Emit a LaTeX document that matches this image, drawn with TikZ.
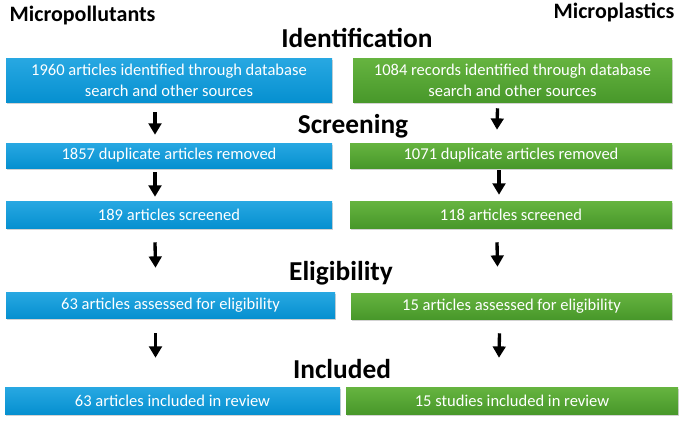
\documentclass[tikz,border=0pt]{standalone}
\usepackage{fontspec}
\setmainfont{Carlito}
\usetikzlibrary{arrows.meta,shadows}

\definecolor{mpTop}{RGB}{40,168,226}
\definecolor{mpBot}{RGB}{6,144,208}
\definecolor{plTop}{RGB}{102,180,64}
\definecolor{plBot}{RGB}{72,152,42}

\begin{document}
\begin{tikzpicture}[x=0.75pt, y=-0.75pt,
	box/.style={rectangle, inner sep=0pt, align=center, text=white, font=\fontsize{12.4}{15.5}\selectfont,
		drop shadow={opacity=0.35, shadow xshift=0.8pt, shadow yshift=-1.2pt}},
	mpbox/.style={box, top color=mpTop, bottom color=mpBot},
	plbox/.style={box, top color=plTop, bottom color=plBot},
	stage/.style={font=\bfseries\fontsize{20.5}{22}\selectfont},
	topic/.style={font=\bfseries\fontsize{16.5}{18}\selectfont},
	arr/.style={-{Triangle[width=9.5pt, length=8.5pt]}, line width=2.5pt}]
	\useasboundingbox (0,0) rectangle (685,421);

	% headings
	\node[topic, anchor=west] (mp_t) at (5,16) {Micropollutants};
	\node[topic, anchor=east] (pl_t) at (679,12) {Microplastics};
	\node[stage] (s_1) at (357,38) {Identification};
	\node[stage] (s_2) at (353,126) {Screening};
	\node[stage] (s_3) at (341,273) {Eligibility};
	\node[stage] (s_4) at (342,369) {Included};

	% micropollutants
	\node[mpbox, minimum width=244.5pt, minimum height=33pt] (mp_1) at (169,80) {1960 articles identified through database\\search and other sources};
	\node[mpbox, minimum width=244.5pt, minimum height=18.75pt] (mp_2) at (169,155.5) {1857 duplicate articles removed};
	\node[mpbox, minimum width=244.5pt, minimum height=20.25pt] (mp_3) at (169,214.5) {189 articles screened};
	\node[mpbox, minimum width=246.75pt, minimum height=19.5pt] (mp_4) at (170.5,305) {63 articles assessed for eligibility};
	\node[mpbox, minimum width=251.25pt, minimum height=20.25pt] (mp_5) at (172.5,400.5) {63 articles included in review};

	% microplastics
	\node[plbox, minimum width=239.25pt, minimum height=33pt] (pl_1) at (512.5,80) {1084 records identified through database\\search and other sources};
	\node[plbox, minimum width=241.5pt, minimum height=18.75pt] (pl_2) at (511,155.5) {1071 duplicate articles removed};
	\node[plbox, minimum width=241.5pt, minimum height=20.25pt] (pl_3) at (511,214.5) {118 articles screened};
	\node[plbox, minimum width=240.75pt, minimum height=19.5pt] (pl_4) at (511.5,306) {15 articles assessed for eligibility};
	\node[plbox, minimum width=249pt, minimum height=20.25pt] (pl_5) at (512,400.5) {15 studies included in review};

	\draw[arr] ([shift={(-14,10)}]mp_1.south) -- ([shift={(-14,-8)}]mp_2.north);
	\draw[arr] ([shift={(-14,4)}]mp_2.south) -- ([shift={(-14,-4)}]mp_3.north);
	\draw[arr] ([shift={(-14,14)}]mp_3.south) -- ([shift={(-15,-24)}]mp_4.north);
	\draw[arr] ([shift={(-15,15)}]mp_4.south) -- ([shift={(-17,-29)}]mp_5.north);

	\draw[arr] ([shift={(-15,6)}]pl_1.south) -- ([shift={(-14,-13)}]pl_2.north);
	\draw[arr] ([shift={(-12,2)}]pl_2.south) -- ([shift={(-12,-6)}]pl_3.north);
	\draw[arr] ([shift={(-14,14)}]pl_3.south) -- ([shift={(-14,-26)}]pl_4.north);
	\draw[arr] ([shift={(-12,14)}]pl_4.south) -- ([shift={(-13,-29)}]pl_5.north);
\end{tikzpicture}
\end{document}
